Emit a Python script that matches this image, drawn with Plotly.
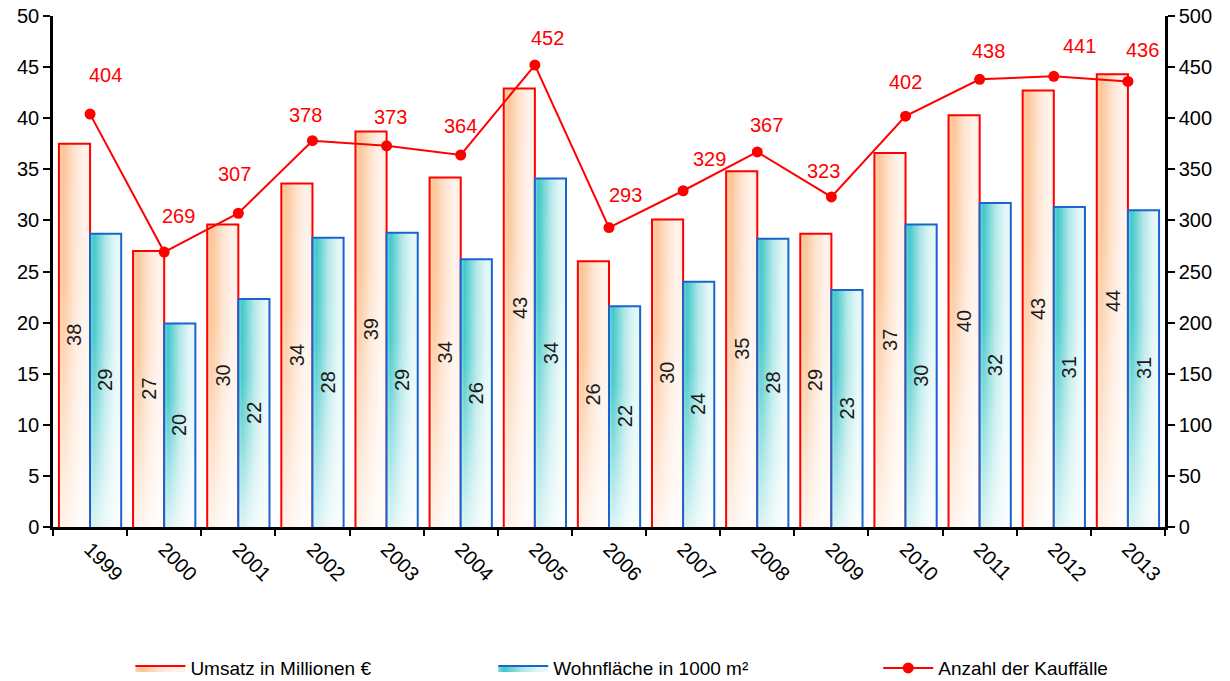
import plotly.graph_objects as go

# Jahreswerte
years = ["1999", "2000", "2001", "2002", "2003", "2004", "2005", "2006",
         "2007", "2008", "2009", "2010", "2011", "2012", "2013"]
umsatz = [37.5, 27.0, 29.6, 33.6, 38.7, 34.2, 42.9, 26.0, 30.1, 34.8,
          28.7, 36.6, 40.3, 42.7, 44.3]          # Millionen €
wohnflaeche = [28.7, 19.9, 22.3, 28.3, 28.8, 26.2, 34.1, 21.6, 24.0, 28.2,
               23.2, 29.6, 31.7, 31.3, 31.0]     # 1000 m²
kauffaelle = [404, 269, 307, 378, 373, 364, 452, 293, 329, 367, 323, 402,
              438, 441, 436]

left_ticks = list(range(0, 51, 5))
right_ticks = list(range(0, 501, 50))

# Placement of the case-count labels relative to their markers (pixels)
label_dx = [15, 14, -4, -7, 4, 0, 13, 16, 26, 9, -8, 0, 9, 26, 15]
label_dy = [39, 36, 39, 26, 29, 29, 27, 33, 32, 27, 26, 34, 28, 30, 31]

FONT = "Liberation Sans, Arial, sans-serif"
BAR_W = 0.42
RED = "#ff0000"
BLUE = "#1a64d0"

orange_scale = [[0, "#fdd3b0"], [0.15, "#fcc596"], [0.5, "#fee4d0"],
                [0.8, "#fff3eb"], [1, "#fff0e5"]]
teal_scale = [[0, "#7fd8d8"], [0.12, "#40c8c9"], [0.5, "#b2e7e8"],
              [0.8, "#e2f6f7"], [1, "#e9f9f9"]]
fade_scale = [[0, "rgba(255,255,255,0)"], [0.35, "rgba(255,255,255,0.05)"],
              [1, "rgba(255,255,255,0.8)"]]

fig = go.Figure()


def add_bars(values, side, cscale, edge):
    for i, v in enumerate(values):
        x0 = i - BAR_W if side == "left" else i
        x1 = x0 + BAR_W
        # open path: the fill closes along the base, the outline does not
        xs = [x0, x0, x1, x1]
        ys = [0, v, v, 0]
        # horizontal colour gradient
        fig.add_trace(go.Scatter(
            x=xs, y=ys, mode="lines", fill="toself",
            fillgradient=dict(type="horizontal", colorscale=cscale,
                              start=x0, stop=x1),
            line=dict(width=0), hoverinfo="skip", showlegend=False))
        # lighter towards the base, plus outline
        fig.add_trace(go.Scatter(
            x=xs, y=ys, mode="lines", fill="toself",
            fillgradient=dict(type="vertical", colorscale=fade_scale,
                              start=v, stop=0),
            line=dict(color=edge, width=2), hoverinfo="skip",
            showlegend=False))


add_bars(umsatz, "left", orange_scale, RED)
add_bars(wohnflaeche, "right", teal_scale, BLUE)

# legend entries for the two bar series
for name, cscale, edge, lg in [("Umsatz in Millionen €", orange_scale, RED, "legend"),
                               ("Wohnfläche in 1000 m²", teal_scale, BLUE, "legend2")]:
    fig.add_trace(go.Scatter(
        x=[None], y=[None], mode="lines", fill="toself", name=name,
        fillgradient=dict(type="horizontal", colorscale=cscale),
        line=dict(color=edge, width=2), legend=lg))

# number of sales on the right axis
fig.add_trace(go.Scatter(
    x=list(range(len(years))), y=kauffaelle, yaxis="y2",
    mode="lines+markers", name="Anzahl der Kauffälle",
    line=dict(color=RED, width=2),
    marker=dict(color=RED, size=11), legend="legend3"))

annotations = []
for i, (u, w) in enumerate(zip(umsatz, wohnflaeche)):
    for xc, v in [(i - BAR_W / 2, u), (i + BAR_W / 2, w)]:
        annotations.append(dict(
            x=xc, y=v / 2, xref="x", yref="y", text=f"{v:.0f}",
            textangle=-90, showarrow=False,
            font=dict(family=FONT, size=20, color="#1a1a1a")))
for i, k in enumerate(kauffaelle):
    annotations.append(dict(
        x=i, y=k, xref="x", yref="y2", text=str(k), showarrow=False,
        xshift=label_dx[i], yshift=label_dy[i],
        font=dict(family=FONT, size=20, color=RED)))

boundaries = [i - 0.5 for i in range(len(years) + 1)]
axis_font = dict(family=FONT, size=20, color="#000000")


def legend_at(x):
    return dict(orientation="h", x=x, xanchor="left", xref="container",
                y=0.019, yanchor="middle", yref="container",
                font=dict(family=FONT, size=19), itemwidth=50,
                bgcolor="rgba(0,0,0,0)")


fig.update_layout(
    width=1230, height=681,
    margin=dict(l=53, r=65, t=16, b=154),
    paper_bgcolor="white", plot_bgcolor="white",
    font=dict(family=FONT, size=20, color="#000000"),
    xaxis=dict(
        range=[-0.5, len(years) - 0.5], tickmode="array",
        tickvals=list(range(len(years))), ticktext=years,
        ticks="", tickangle=45, tickfont=axis_font,
        showgrid=False, zeroline=False, automargin=False,
        layer="above traces",
        showline=True, linecolor="#000000", linewidth=2.5,
        minor=dict(tickmode="array", tickvals=boundaries, ticks="outside",
                   ticklen=6, tickwidth=1.5, tickcolor="#000000",
                   showgrid=False)),
    xaxis2=dict(
        range=[-0.5, len(years) - 0.5], overlaying="x", anchor="y",
        side="bottom", tickmode="array", tickvals=boundaries,
        ticks="inside", ticklen=6, tickwidth=1.5, tickcolor="#000000",
        showticklabels=False, showgrid=False, zeroline=False,
        showline=False, layer="above traces"),
    yaxis=dict(
        range=[0, 50], tickmode="array", tickvals=left_ticks,
        ticks="outside", ticklen=7, tickwidth=1.5, tickcolor="#000000",
        tickfont=axis_font, showgrid=False, zeroline=False, automargin=False,
        layer="above traces",
        showline=True, linecolor="#000000", linewidth=2.5),
    yaxis2=dict(
        range=[0, 500], overlaying="y", side="right", anchor="x",
        tickmode="array", tickvals=right_ticks,
        ticks="outside", ticklen=7, tickwidth=1.5, tickcolor="#000000",
        tickfont=axis_font, showgrid=False, zeroline=False, automargin=False,
        showline=True, linecolor="#000000", linewidth=2.5),
    yaxis3=dict(
        range=[0, 50], overlaying="y", side="left", anchor="x",
        tickmode="array", tickvals=left_ticks, ticks="inside", ticklen=6,
        tickwidth=1.5, tickcolor="#000000", showticklabels=False,
        showgrid=False, zeroline=False, showline=False),
    yaxis4=dict(
        range=[0, 500], overlaying="y", side="right", anchor="x",
        tickmode="array", tickvals=right_ticks, ticks="inside", ticklen=6,
        tickwidth=1.5, tickcolor="#000000", showticklabels=False,
        showgrid=False, zeroline=False, showline=False),
    legend=legend_at(0.106),
    legend2=legend_at(0.401),
    legend3=legend_at(0.714),
    annotations=annotations,
    showlegend=True,
)

fig.write_html("out.html")
